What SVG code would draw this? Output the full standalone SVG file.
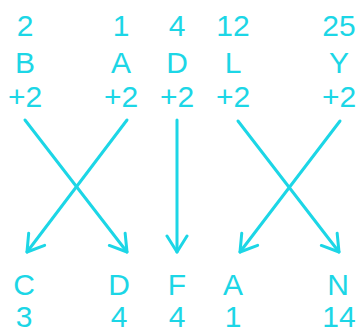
<svg xmlns="http://www.w3.org/2000/svg" width="359" height="328" viewBox="0 0 359 328">
<style>
text{font-family:"Liberation Sans",Arial,sans-serif;font-size:30px;fill:#1cd6e6;text-anchor:middle}
.c line{stroke:#1cd6e6;stroke-width:3;stroke-linecap:round;marker-end:url(#ah)}
</style>
<defs>
<marker id="ah" markerUnits="userSpaceOnUse" viewBox="-20 -12 24 24" refX="0" refY="0" markerWidth="24" markerHeight="24" orient="auto">
<path d="M-16,-10 L0,0 L-16,10" fill="none" stroke="#1cd6e6" stroke-width="3" stroke-linecap="round" stroke-linejoin="round"/>
</marker>
</defs>
<g id="top-B"><text x="25" y="36">2</text><text x="25" y="73">B</text><text x="25" y="107">+2</text></g>
<g id="top-A"><text x="121" y="36">1</text><text x="121" y="73">A</text><text x="121" y="107">+2</text></g>
<g id="top-D"><text x="177" y="36">4</text><text x="177" y="73">D</text><text x="177" y="107">+2</text></g>
<g id="top-L"><text x="233" y="36">12</text><text x="233" y="73">L</text><text x="233" y="107">+2</text></g>
<g id="top-Y"><text x="339" y="36">25</text><text x="339" y="73">Y</text><text x="339" y="107">+2</text></g>
<g id="bot-C"><text x="24" y="295">C</text><text x="24" y="327">3</text></g>
<g id="bot-D"><text x="119" y="295">D</text><text x="119" y="327">4</text></g>
<g id="bot-F"><text x="177" y="295">F</text><text x="177" y="327">4</text></g>
<g id="bot-A"><text x="233" y="295">A</text><text x="233" y="327">1</text></g>
<g id="bot-N"><text x="338" y="295">N</text><text x="339" y="327">14</text></g>
<g class="c" id="connectors">
<line x1="25" y1="120" x2="127" y2="252"/>
<line x1="127" y1="120" x2="27" y2="252"/>
<line x1="177" y1="120" x2="177" y2="252"/>
<line x1="238" y1="121" x2="339" y2="252"/>
<line x1="340" y1="121" x2="240" y2="252"/>
</g>
</svg>
